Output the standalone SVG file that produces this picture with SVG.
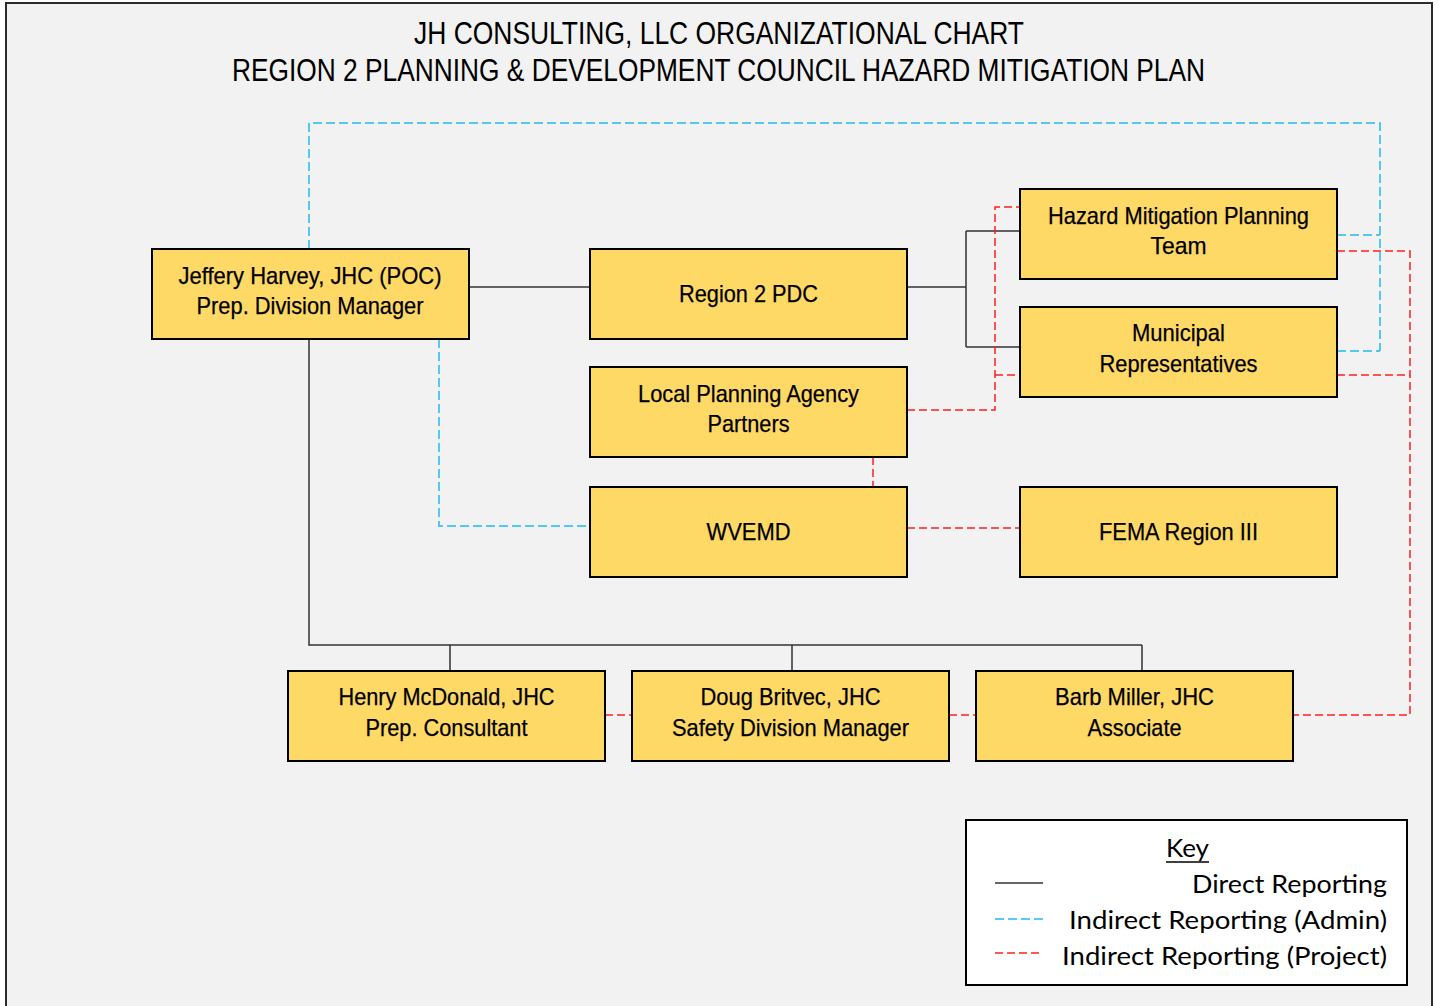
<svg xmlns="http://www.w3.org/2000/svg" width="1439" height="1006" viewBox="0 0 1439 1006">
<style>
.node rect{fill:#ffd966;stroke:#000;stroke-width:2}
.nt{font-family:"Liberation Sans Narrow","Liberation Sans",Arial,sans-serif;font-size:24px;fill:#000;text-anchor:middle;stroke:#000;stroke-width:0.25}
.title{font-family:"Liberation Sans Narrow","Liberation Sans",Arial,sans-serif;font-size:32px;fill:#000;text-anchor:middle}
.direct{fill:none;stroke:#333;stroke-width:1.5}
.admin{fill:none;stroke:#1ebcf0;stroke-width:1.5;stroke-dasharray:9 4}
.proj{fill:none;stroke:#ff1f1f;stroke-width:1.5;stroke-dasharray:8 4}
.kt{font-family:Lato,"Liberation Sans",sans-serif;font-size:25px;fill:#000;text-anchor:end}
</style>
<rect x="0" y="0" width="1439" height="1006" fill="#ffffff"/>
<rect x="6" y="3" width="1426" height="1010" fill="#f2f2f2" stroke="#2b2b2b" stroke-width="2"/>
<g id="title">
<text class="title" x="719" y="44" textLength="610" lengthAdjust="spacingAndGlyphs">JH CONSULTING, LLC ORGANIZATIONAL CHART</text>
<text class="title" x="718.5" y="81" textLength="973" lengthAdjust="spacingAndGlyphs">REGION 2 PLANNING &amp; DEVELOPMENT COUNCIL HAZARD MITIGATION PLAN</text>
</g>
<g id="connectors">
<path class="direct" d="M469 287H590"/>
<path class="direct" d="M907 287H966M966 231V347M966 231H1020M966 347H1020"/>
<path class="direct" d="M309 339V645H1142M450 645V671M792 645V671M1142 645V671"/>
<path class="admin" d="M309 249V123H1380V351"/>
<path class="admin" d="M1337 235H1380M1337 351H1380"/>
<path class="admin" d="M439 339V526H590"/>
<path class="proj" d="M907 410H995V207H1020"/>
<path class="proj" d="M995 375H1020"/>
<path class="proj" d="M873 457V487"/>
<path class="proj" d="M907 528H1020"/>
<path class="proj" d="M1337 251H1410V715H1293"/>
<path class="proj" d="M1337 375H1410"/>
<path class="proj" d="M605 715H632M949 715H976"/>
</g>
<g id="jeffery" class="node"><rect x="152" y="249" width="317" height="90"/>
<text class="nt" x="310" y="284" textLength="263" lengthAdjust="spacingAndGlyphs">Jeffery Harvey, JHC (POC)</text>
<text class="nt" x="310" y="314" textLength="227" lengthAdjust="spacingAndGlyphs">Prep. Division Manager</text></g>
<g id="region2pdc" class="node"><rect x="590" y="249" width="317" height="90"/>
<text class="nt" x="748.5" y="302" textLength="139" lengthAdjust="spacingAndGlyphs">Region 2 PDC</text></g>
<g id="hmpt" class="node"><rect x="1020" y="189" width="317" height="90"/>
<text class="nt" x="1178.5" y="224" textLength="261" lengthAdjust="spacingAndGlyphs">Hazard Mitigation Planning</text>
<text class="nt" x="1178.5" y="254" textLength="56" lengthAdjust="spacingAndGlyphs">Team</text></g>
<g id="municipal" class="node"><rect x="1020" y="307" width="317" height="90"/>
<text class="nt" x="1178.5" y="341" textLength="93" lengthAdjust="spacingAndGlyphs">Municipal</text>
<text class="nt" x="1178.5" y="372" textLength="158" lengthAdjust="spacingAndGlyphs">Representatives</text></g>
<g id="lpap" class="node"><rect x="590" y="367" width="317" height="90"/>
<text class="nt" x="748.5" y="402" textLength="221" lengthAdjust="spacingAndGlyphs">Local Planning Agency</text>
<text class="nt" x="748.5" y="432" textLength="82" lengthAdjust="spacingAndGlyphs">Partners</text></g>
<g id="wvemd" class="node"><rect x="590" y="487" width="317" height="90"/>
<text class="nt" x="748.5" y="540" textLength="84" lengthAdjust="spacingAndGlyphs">WVEMD</text></g>
<g id="fema" class="node"><rect x="1020" y="487" width="317" height="90"/>
<text class="nt" x="1178.5" y="540" textLength="159" lengthAdjust="spacingAndGlyphs">FEMA Region III</text></g>
<g id="henry" class="node"><rect x="288" y="671" width="317" height="90"/>
<text class="nt" x="446.5" y="705" textLength="216" lengthAdjust="spacingAndGlyphs">Henry McDonald, JHC</text>
<text class="nt" x="446.5" y="736" textLength="162" lengthAdjust="spacingAndGlyphs">Prep. Consultant</text></g>
<g id="doug" class="node"><rect x="632" y="671" width="317" height="90"/>
<text class="nt" x="790.5" y="705" textLength="180" lengthAdjust="spacingAndGlyphs">Doug Britvec, JHC</text>
<text class="nt" x="790.5" y="736" textLength="237" lengthAdjust="spacingAndGlyphs">Safety Division Manager</text></g>
<g id="barb" class="node"><rect x="976" y="671" width="317" height="90"/>
<text class="nt" x="1134.5" y="705" textLength="159" lengthAdjust="spacingAndGlyphs">Barb Miller, JHC</text>
<text class="nt" x="1134.5" y="736" textLength="94" lengthAdjust="spacingAndGlyphs">Associate</text></g>
<g id="key">
<rect x="966" y="820" width="441" height="165" fill="#ffffff" stroke="#000" stroke-width="2"/>
<text x="1187.5" y="857" font-family="Lato,'Liberation Sans',sans-serif" font-size="25" text-anchor="middle" textLength="43" lengthAdjust="spacingAndGlyphs">Key</text>
<line x1="1166" y1="862" x2="1209" y2="862" stroke="#000" stroke-width="1.5"/>
<line class="direct" x1="995" y1="883" x2="1043" y2="883"/>
<line class="admin" x1="995" y1="919" x2="1043" y2="919"/>
<line class="proj" x1="995" y1="953" x2="1043" y2="953"/>
<text class="kt" x="1387" y="893" textLength="195" lengthAdjust="spacingAndGlyphs">Direct Reporting</text>
<text class="kt" x="1387" y="929" textLength="318" lengthAdjust="spacingAndGlyphs">Indirect Reporting (Admin)</text>
<text class="kt" x="1387" y="965" textLength="325" lengthAdjust="spacingAndGlyphs">Indirect Reporting (Project)</text>
</g>
</svg>
